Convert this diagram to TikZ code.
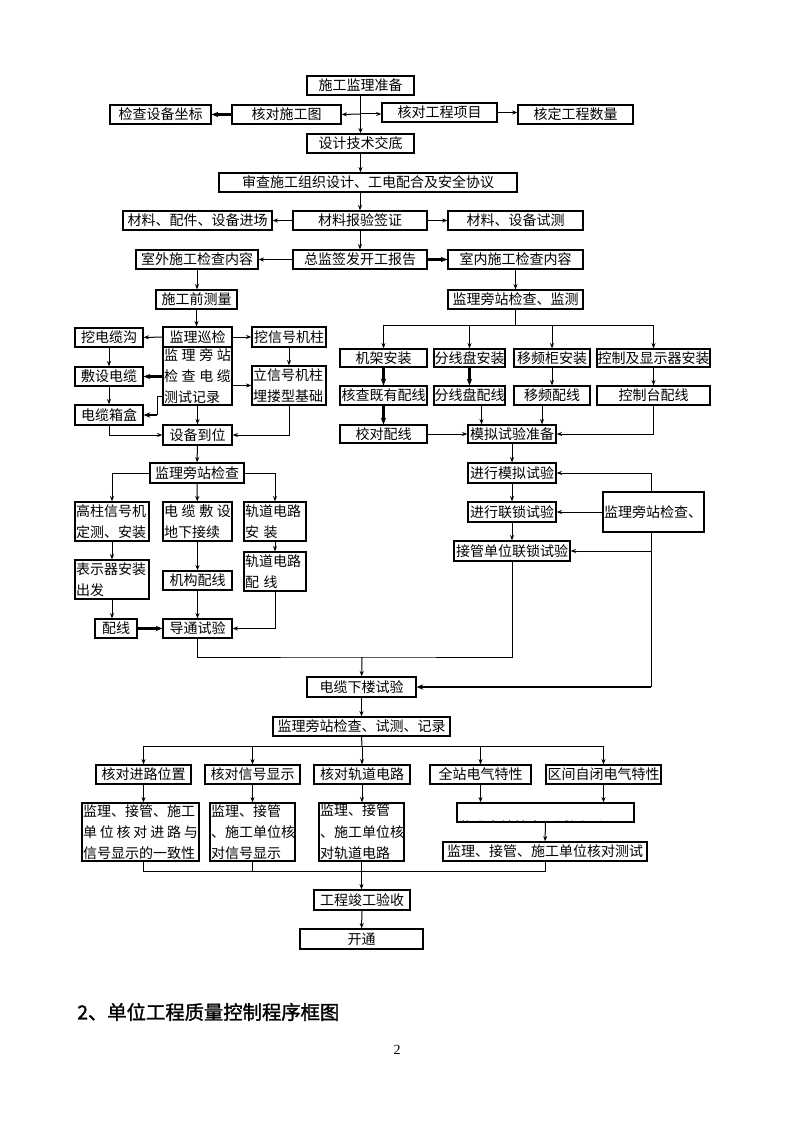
\documentclass[tikz,border=0pt]{standalone}
\usepackage{fontspec}
\setmainfont{Noto Sans CJK SC}
\newfontfamily\titlefont[FakeBold=1.5]{Noto Sans CJK SC}
\newfontfamily\pagefont{Liberation Serif}
\usepackage{tikz}
\usetikzlibrary{arrows.meta, positioning, calc}

% box from pixel corners (x1,y1)-(x2,y2)
\newcommand{\bx}[7][]{\node[box, minimum width={(#5-#3)*0.75pt}, minimum height={(#6-#4)*0.75pt}, #1] (#2) at ({(#3+#5)/2},{(#4+#6)/2}) {#7};}
% same, text set in lines
\newcommand{\mbx}[7][]{\node[box, align=left, inner xsep=0.5pt, text width={(#5-#3-2)*0.75pt}, minimum width={(#5-#3)*0.75pt}, minimum height={(#6-#4)*0.75pt}, #1] (#2) at ({(#3+#5)/2},{(#4+#6)/2}) {#7};}

\begin{document}
\begin{tikzpicture}[x=0.75pt, y=-0.75pt,
    box/.style={draw, line width=0.9pt, inner sep=0pt, font=\fontsize{10.5pt}{16pt}\selectfont},
    link/.style={line width=0.75pt},
    arr/.style={link, -{Stealth[length=4pt,width=3pt]}},
    heavy/.style={line width=2pt, -{Stealth[length=5pt,width=4pt]}}]
    \useasboundingbox (0,0) rectangle (794,1123);

    % Preparation
    \bx{zb}{307}{76}{414}{95}{施工监理准备}
    \bx{jc}{110}{105}{211}{124}{检查设备坐标}
    \bx{hd}{232}{105}{341}{124}{核对施工图}
    \bx{hg}{382}{103}{497}{122}{核对工程项目}
    \bx{hs}{518}{105}{633}{124}{核定工程数量}
    \bx{sj}{307}{134}{414}{153}{设计技术交底}
    \bx{sc}{219}{173}{517}{192}{审查施工组织设计、工电配合及安全协议}
    \bx{cp}{123}{211}{272}{230}{材料、配件、设备进场}
    \bx{cb}{293}{211}{427}{230}{材料报验签证}
    \bx{cs}{448}{211}{583}{230}{材料、设备试测}
    \bx{sw}{136}{250}{258}{269}{室外施工检查内容}
    \bx{zj}{293}{250}{427}{269}{总监签发开工报告}
    \bx{sn}{448}{250}{583}{269}{室内施工检查内容}
    \bx{sq}{156}{290}{237}{309}{施工前测量}
    \bx{jpjc}{448}{290}{583}{309}{监理旁站检查、监测}

    \coordinate (c1) at (360.5,114);
    \draw[arr] (zb) -- (sj);
    \draw[arr] (c1) -- (hd.east);
    \draw[arr] (c1) -- (hg.west |- c1);
    \draw[heavy] (hd) -- (jc);
    \draw[arr] (hg.east) -- (hg.east -| hs.west);
    \draw[arr] (sj.south) -- (sj.south |- sc.north);
    \draw[arr] (sc.south -| cb.north) -- (cb.north);
    \draw[arr] (cb) -- (cp);
    \draw[arr] (cb) -- (cs);
    \draw[arr] (cb) -- (zj);
    \draw[arr] (zj) -- (sw);
    \draw[heavy] (zj) -- (sn);
    \draw[arr] (sw.south) -- (sw.south |- sq.north);
    \draw[arr] (sn) -- (jpjc);

    % Outdoor works
    \bx{wdl}{75}{328}{143}{347}{挖电缆沟}
    \bx{xj}{163}{327}{232}{347}{监理巡检}
    \mbx{pz}{163}{347}{232}{405}{\makebox[\linewidth]{监\hfill 理\hfill 旁\hfill 站}\\\makebox[\linewidth]{检\hfill 查\hfill 电\hfill 缆}\\测试记录}
    \bx{wx}{252}{327}{326}{347}{挖信号机柱}
    \bx{fs}{75}{367}{143}{386}{敷设电缆}
    \mbx{lx}{252}{366}{326}{405}{立信号机柱\\埋搂型基础}
    \bx{dx0}{75}{405}{143}{425}{电缆箱盒}
    \bx{sbdw}{163}{425}{232}{445}{设备到位}

    \coordinate (k) at (157,415);
    \draw[arr] (sq.south) -- (sq.south |- xj.north);
    \draw[arr] (xj) -- (wdl);
    \draw[arr] (xj) -- (wx);
    \draw[heavy] (pz.west |- fs) -- (fs.east);
    \draw[arr] (pz.east |- lx) -- (lx.west);
    \draw[link] (pz.west |- 0,396) -- (k |- 0,396) -- (k);
    \draw[heavy] (k) -- (dx0.east);
    \draw[arr] (wdl) -- (fs);
    \draw[arr] (fs) -- (dx0);
    \draw[arr] (dx0.south) |- (sbdw.west);
    \draw[arr] (wx) -- (lx);
    \draw[arr] (lx.south) |- (sbdw.east);
    \draw[arr] (pz) -- (sbdw);

    % Indoor works
    \bx{jj}{340}{349}{427}{367}{机架安装}
    \bx{fxp}{434}{349}{505}{367}{分线盘安装}
    \bx{ypg}{514}{349}{590}{367}{移频柜安装}
    \bx{kz}{597}{349}{710}{367}{控制及显示器安装}
    \bx{hc}{340}{386}{427}{405}{核查既有配线}
    \bx{fxpx}{434}{386}{505}{405}{分线盘配线}
    \bx{ypx}{514}{386}{590}{405}{移频配线}
    \bx{kzt}{597}{386}{710}{405}{控制台配线}
    \bx{jd}{340}{425}{427}{443}{校对配线}
    \bx{mn}{468}{425}{556}{443}{模拟试验准备}

    \coordinate (bus1) at (516,325);
    \draw[link] (jpjc.south) -- (jpjc.south |- bus1);
    \foreach \n in {jj,fxp,ypg,kz}
        \draw[arr] (jpjc.south |- bus1) -| (\n.north);
    \draw[heavy] (jj) -- (hc);
    \draw[heavy] (fxp) -- (fxpx);
    \draw[arr] (ypg) -- (ypx);
    \draw[arr] (kz) -- (kzt);
    \draw[heavy] (hc) -- (jd);
    \draw[arr] (jd) -- (mn);
    \draw[arr] ([xshift=9pt]fxpx.south) -- ([xshift=9pt]fxpx.south |- mn.north);
    \draw[arr] ([xshift=-7.5pt]ypx.south) -- ([xshift=-7.5pt]ypx.south |- mn.north);
    \draw[arr] (kzt.south) |- (mn.east);

    % Outdoor checks
    \bx{jp2}{150}{463}{244}{483}{监理旁站检查}
    \mbx{gz}{75}{502}{149}{541}{高柱信号机\\定测、安装}
    \mbx{dlfs}{163}{502}{232}{541}{\makebox[\linewidth]{电\hfill 缆\hfill 敷\hfill 设}\\地下接续}
    \mbx{gd}{244}{502}{306}{541}{轨道电路\\安 装}
    \mbx{bsq}{75}{560}{149}{599}{表示器安装\\出发}
    \bx{jg0}{163}{571}{232}{590}{机构配线}
    \mbx{gdp}{244}{552}{306}{591}{轨道电路\\配 线}
    \bx{px}{95}{619}{137}{638}{配线}
    \bx{dt}{163}{619}{232}{638}{导通试验}

    \draw[arr] (sbdw) -- (jp2);
    \draw[arr] (jp2.west) -| (gz.north);
    \draw[arr] (jp2) -- (dlfs);
    \draw[arr] (jp2.east) -| (gd.north);
    \draw[arr] (gz) -- (bsq);
    \draw[arr] (bsq.south) -- (bsq.south |- px.north);
    \draw[arr] (dlfs) -- (jg0);
    \draw[arr] (jg0) -- (dt);
    \draw[arr] (gd) -- (gdp);
    \draw[arr] (gdp.south) |- (dt.east);
    \draw[heavy] (px) -- (dt);

    % Indoor tests
    \bx{mx}{468}{463}{556}{483}{进行模拟试验}
    \bx{ls}{468}{502}{556}{522}{进行联锁试验}
    \bx{jg}{454}{541}{570}{561}{接管单位联锁试验}
    \bx{dxl}{307}{677}{416}{697}{电缆下楼试验}

    \coordinate (r1) at (651,473);
    \coordinate (bus2) at (362,657);
    \draw[arr] (mn) -- (mx);
    \draw[arr] (mx) -- (ls);
    \draw[arr] (ls) -- (jg);
    \draw[arr] (r1) -- (mx.east);
    \draw[link] (r1) -- (r1 |- dxl.east);
    \draw[heavy] (r1 |- dxl.east) -- (dxl.east);
    \draw[arr] (r1 |- jg.east) -- (jg.east);
    \mbx[fill=white]{jz}{603}{492}{704}{532}{监理旁站检查、}
    \draw[arr] (jz) -- (ls);
    \draw[link] (dt.south) |- (bus2) -| (jg.south);
    \draw[arr] (bus2) -- (dxl);

    % Final checks
    \bx{jcl}{273}{717}{450}{736}{监理旁站检查、试测、记录}
    \bx{jl1}{96}{765}{191}{784}{核对进路位置}
    \bx{jl2}{205}{765}{300}{784}{核对信号显示}
    \bx{jl3}{314}{765}{410}{784}{核对轨道电路}
    \bx{jl4}{430}{765}{531}{784}{全站电气特性}
    \bx{jl5}{546}{765}{661}{784}{区间自闭电气特性}
    \mbx{k1}{82}{803}{199}{861}{监理、接管、施工\\\makebox[\linewidth]{单\hfill 位\hfill 核\hfill 对\hfill 进\hfill 路\hfill 与}\\信号显示的一致性}
    \mbx{k2}{210}{803}{295}{861}{监理、接管\\、施工单位核\\对信号显示}
    \mbx{k3}{319}{803}{404}{861}{监理、接管\\、施工单位核\\对轨道电路}
    \bx{k4}{457}{803}{634}{822}{}
    \begin{scope}
        \clip (457,803) rectangle (634,822);
        \node[anchor=west, font=\fontsize{10.5pt}{16pt}\selectfont, inner sep=0pt] (k4t) at (458,827) {监理旁站检查、试测、记录};
    \end{scope}
    \bx{k5}{443}{842}{647}{861}{监理、接管、施工单位核对测试}
    \bx{gc}{314}{890}{410}{910}{工程竣工验收}
    \bx{kt}{300}{929}{423}{949}{开通}

    \coordinate (bus3) at (362,746);
    \coordinate (bus4) at (362,871);
    \draw[arr] (dxl) -- (jcl);
    \draw[link] (jcl.south) -- (bus3);
    \foreach \n in {jl1,jl2,jl3,jl4,jl5}
        \draw[arr] (bus3) -| (\n.north);
    \draw[arr] (jl1.south) -- (jl1.south |- k1.north);
    \draw[arr] (jl2.south) -- (jl2.south |- k2.north);
    \draw[arr] (jl3.south) -- (jl3.south |- k3.north);
    \draw[arr] (jl4.south) -- (jl4.south |- k4.north);
    \draw[arr] (jl5.south) -- (jl5.south |- k4.north);
    \draw[arr] (k4) -- (k5);
    \draw[link] (jl1.south |- k1.south) |- (bus4) -| (k5.south);
    \draw[link] (k2.south) -- (k2.south |- bus4);
    \draw[arr] (k3.south) -- (k3.south |- gc.north);
    \draw[arr] (gc) -- (kt);

    % Heading and page number
    \node[anchor=west, font=\titlefont\fontsize{14.5pt}{17pt}\selectfont, inner sep=0pt] (title) at (77,1012) {2、单位工程质量控制程序框图};
    \node[font=\pagefont\fontsize{10.5pt}{12pt}\selectfont] (pg) at (397,1050) {2};
\end{tikzpicture}
\end{document}
